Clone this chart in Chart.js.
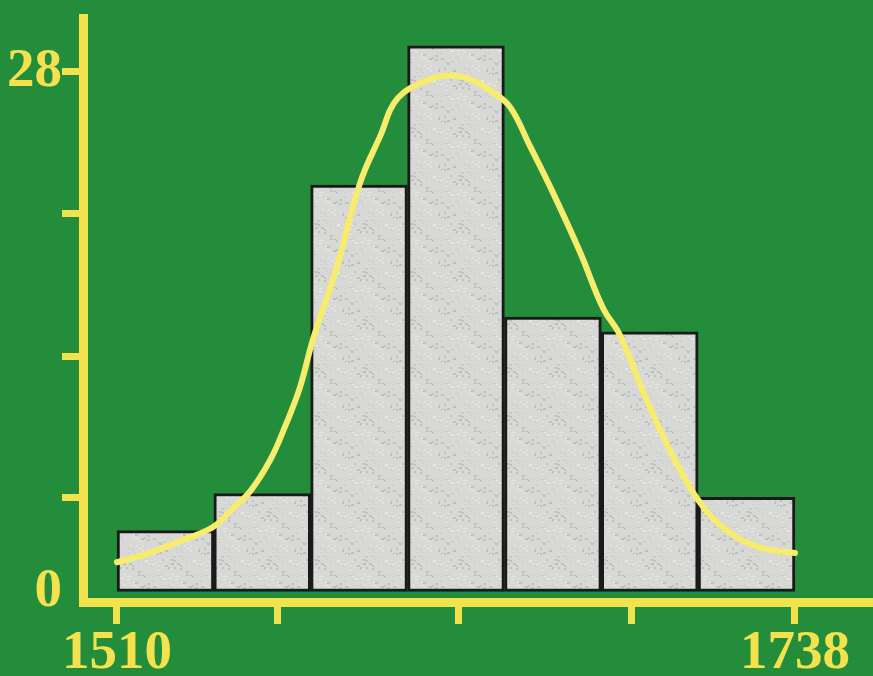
<!DOCTYPE html>
<html>
<head>
<meta charset="utf-8">
<script src="https://cdn.jsdelivr.net/npm/chart.js@4/dist/chart.umd.min.js"></script>
<style>
  html, body { margin: 0; padding: 0; background: #248d3c; }
  canvas { display: block; }
</style>
</head>
<body>
<canvas id="histo" width="873" height="676"></canvas>
<script>
// bins of the histogram (edges) and counts
const binEdges = [1510, 1542.6, 1575.1, 1607.7, 1640.3, 1672.9, 1705.4, 1738];
const counts = [3.3, 5.3, 21.9, 29.4, 14.8, 14.0, 5.1];

// fitted curve, points
const curveX = [1510, 1521.1, 1532.1, 1542.3, 1549.0, 1554.7, 1561.5, 1566.5, 1571.5, 1575.9, 1583.6, 1591.7, 1598.4, 1604.5, 1615.3, 1622.0, 1628.7, 1636.4, 1642.2, 1648.9, 1656.6, 1665.7, 1673.4, 1679.2, 1688.2, 1697.0, 1706.1, 1715.1, 1726.2, 1738];
const curveY = [1.6, 2.1, 2.8, 3.5, 4.5, 5.4, 7.1, 8.9, 11.0, 13.6, 17.3, 22.0, 24.5, 26.6, 27.6, 27.8, 27.6, 26.9, 26.1, 24.0, 21.5, 18.3, 15.3, 13.8, 10.3, 7.3, 4.8, 3.3, 2.4, 2.1];

// axis ticks
const xTicks = [1510, 1564, 1625, 1683, 1738];
const xTickLabels = ['1510', '', '', '', '1738'];
const yTicks = [0, 5.1, 12.7, 20.4, 28];
const yTickLabels = ['0', '', '', '', '28'];

const yellow = '#f3e24e';
const lineYellow = '#f7ec6c';
const labelFont = { family: "'Liberation Serif', serif", weight: 'bold', size: 55, lineHeight: 1 };

// speckled light grey fill for the bars
function speckle() {
  const c = document.createElement('canvas');
  c.width = 48; c.height = 48;
  const g = c.getContext('2d');
  g.fillStyle = '#d8d9d6';
  g.fillRect(0, 0, 48, 48);
  for (let i = 0; i < 90; i++) {
    const px = (i * 37) % 48, py = (i * 53 + (i * i) % 17) % 48;
    g.fillStyle = i % 3 === 0 ? '#bfc1be' : (i % 3 === 1 ? '#e8e9e6' : '#cbcdca');
    g.fillRect(px, py, 2 + (i % 2), 1 + (i % 3 === 0 ? 1 : 0));
  }
  return g.createPattern(c, 'repeat');
}

const barData = counts.map((v, i) => ({ x: (binEdges[i] + binEdges[i + 1]) / 2, y: v }));
const curveData = curveX.map((x, i) => ({ x: x, y: curveY[i] }));

const bgPlugin = {
  id: 'greenBoard',
  beforeDraw(chart) {
    const c = chart.ctx;
    c.save();
    c.fillStyle = '#248d3c';
    c.fillRect(0, 0, chart.width, chart.height);
    c.restore();
  }
};

const ctx = document.getElementById('histo');

new Chart(ctx, {
  type: 'bar',
  data: {
    datasets: [{
      type: 'line',
      data: curveData,
      borderColor: lineYellow,
      borderWidth: 6,
      borderCapStyle: 'round',
      pointRadius: 0,
      tension: 0.4,
      order: 0
    }, {
      type: 'bar',
      data: barData,
      backgroundColor: speckle(),
      borderColor: '#1a1a1a',
      borderWidth: 3,
      borderSkipped: false,
      barPercentage: 1,
      categoryPercentage: 1,
      order: 1
    }]
  },
  options: {
    responsive: false,
    animation: false,
    layout: { padding: { top: 18, left: 0, right: 0, bottom: 0 } },
    plugins: { legend: { display: false }, tooltip: { enabled: false } },
    scales: {
      x: {
        type: 'linear',
        min: 1498.57,
        max: 1764.23,
        offset: false,
        afterBuildTicks: s => { s.ticks = xTicks.map(v => ({ value: v })); },
        afterFit: s => { s.height = 74; s.paddingLeft = 0; s.paddingRight = 0; },
        ticks: {
          callback: (v, i) => xTickLabels[i],
          color: yellow,
          font: labelFont,
          padding: 2,
          maxRotation: 0,
          autoSkip: false
        },
        grid: { offset: false, drawOnChartArea: false, tickLength: 22, tickWidth: 7, tickColor: yellow },
        border: { color: yellow, width: 9 }
      },
      y: {
        min: -0.54,
        max: 30.9,
        afterBuildTicks: s => { s.ticks = yTicks.map(v => ({ value: v })); },
        afterFit: s => { s.width = 83; s.paddingTop = 0; s.paddingBottom = 0; },
        ticks: {
          callback: (v, i) => yTickLabels[i],
          color: yellow,
          font: labelFont,
          padding: 0
        },
        grid: {
          drawOnChartArea: false,
          tickLength: 21,
          tickWidth: 7,
          tickColor: c => (c.tick && c.tick.value === 0) ? 'rgba(0,0,0,0)' : yellow
        },
        border: { color: yellow, width: 9 }
      }
    }
  },
  plugins: [bgPlugin]
});
</script>
</body>
</html>
